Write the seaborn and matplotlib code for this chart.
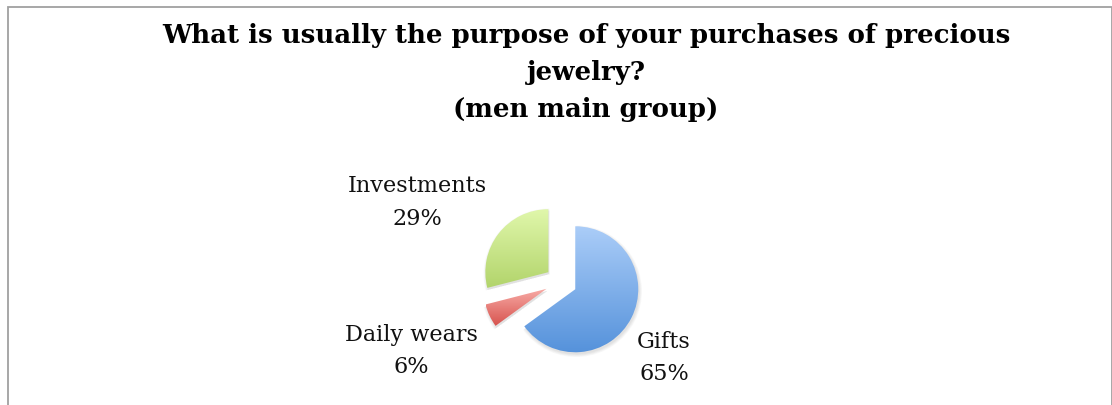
import numpy as np
import matplotlib
matplotlib.use("Agg")
import matplotlib.pyplot as plt
import matplotlib.patches as mpatches
from matplotlib.colors import to_rgba
import seaborn as sns

# Survey answers (percent of respondents)
categories = ["Gifts", "Daily wears", "Investments"]
shares = [65, 6, 29]
pct_labels = ["65%", "6%", "29%"]
title_lines = [
    "What is usually the purpose of your purchases of precious",
    "jewelry?",
    "(men main group)",
]

# Vertical gradient endpoints per slice (top -> bottom)
top_colors = ["#abcdf8", "#f8aca7", "#e0f7ab"]
bottom_colors = ["#5592db", "#d7534e", "#b2d46b"]

sns.set_theme(style="white")
plt.rcParams["font.family"] = ["DejaVu Serif"]

W, H = 1112, 406
fig = plt.figure(figsize=(W / 100, H / 100), dpi=100)
ax = fig.add_axes([0, 0, 1, 1])

center = (561, H - 283)
radius = 63
wedges, _ = ax.pie(
    shares,
    startangle=90,
    counterclock=False,
    explode=[16] * len(shares),
    radius=radius,
    center=center,
    wedgeprops=dict(linewidth=0),
)
ax.set_xlim(0, W)
ax.set_ylim(0, H)
ax.set_aspect("equal")
ax.axis("off")

# soft drop shadow under each slice
for w in wedges:
    cx, cy = w.center
    for k in range(5):
        sh = mpatches.Wedge((cx + 1, cy - 2), w.r + 0.7 * k, w.theta1, w.theta2,
                            facecolor="black", alpha=0.025, lw=0, zorder=0.5)
        ax.add_patch(sh)

# gradient fill clipped to each wedge
for w, c_top, c_bot in zip(wedges, top_colors, bottom_colors):
    verts = w.get_patch_transform().transform(w.get_path().vertices)
    x0, x1 = verts[:, 0].min(), verts[:, 0].max()
    y0, y1 = verts[:, 1].min(), verts[:, 1].max()
    t = np.linspace(0, 1, 256)[:, None]
    a, b = np.array(to_rgba(c_bot)), np.array(to_rgba(c_top))
    grad = (a[None, :] * (1 - t) + b[None, :] * t)[:, None, :]
    im = ax.imshow(grad, extent=[x0, x1, y0, y1], origin="lower",
                   aspect="auto", interpolation="bicubic", zorder=1)
    im.set_clip_path(w)
    w.set_facecolor("none")
    w.set_zorder(1.5)

# slice labels: (x, baseline of name, baseline of percent) in pixel rows
label_pos = {"Gifts": (664, 348, 380),
             "Daily wears": (411, 341, 373),
             "Investments": (417, 192, 225)}
for name, pct in zip(categories, pct_labels):
    x, b1, b2 = label_pos[name]
    ax.text(x, H - b1, name, ha="center", va="baseline", fontsize=16.1, color="#111111")
    ax.text(x, H - b2, pct, ha="center", va="baseline", fontsize=16.1, color="#111111")

# title
for line, base in zip(title_lines, [43, 80, 116.5]):
    ax.text(586, H - base, line, ha="center", va="baseline", fontsize=18.7,
            fontweight="bold", color="black")

# chart frame (bottom edge runs past the image)
frame = mpatches.Rectangle((7.5, -10), 1104, H - 7.5 + 10, fill=False,
                           edgecolor="#a0a0a0", lw=1.3, clip_on=False, zorder=3)
ax.add_patch(frame)

fig.savefig("out.png", dpi=100)
